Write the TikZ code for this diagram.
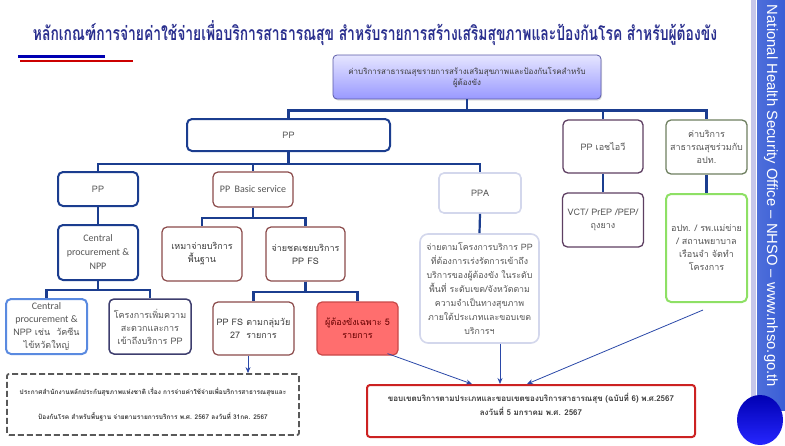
\documentclass[tikz,border=0pt]{standalone}
\usepackage{fontspec}
\setmainfont{Loma}[Script=Thai]
\newfontfamily\latfont{Carlito}
\newfontfamily\sidefont{Liberation Sans}
\usetikzlibrary{arrows.meta,shadows}
\definecolor{navy}{HTML}{1B3D8F}
\definecolor{titleblue}{HTML}{2A2F8E}
\definecolor{txtgray}{HTML}{555555}
\definecolor{txtdark}{HTML}{3A3A3A}
\definecolor{brownb}{HTML}{8B4A4A}
\definecolor{purpleb}{HTML}{5E3F62}
\definecolor{greenb}{HTML}{6E7F60}
\definecolor{limeb}{HTML}{8EE065}
\definecolor{lightb}{HTML}{D3D7EC}
\definecolor{medblue}{HTML}{5A8AE0}
\definecolor{navygray}{HTML}{3E3E6E}
\definecolor{salmon}{HTML}{FF6E6E}
\definecolor{salmonb}{HTML}{C84848}
\definecolor{redb}{HTML}{CC2222}
\definecolor{arrblue}{HTML}{2A48A8}
\definecolor{sideblue}{HTML}{3A5ED6}
\definecolor{lavline}{HTML}{C6C6EA}
\begin{document}
\begin{tikzpicture}[x=1pt,y=-1pt,
  box/.style={draw, rounded corners=5pt, fill=white, align=center, inner sep=1pt,
    font=\fontsize{9}{13}\selectfont, text=txtgray},
  bluebox/.style={box, draw=navy, line width=2pt},
  brownbox/.style={box, draw=brownb, line width=1.2pt},
  purplebox/.style={box, draw=purpleb, line width=1.3pt},
  olivebox/.style={box, draw=greenb, line width=1.3pt},
  limebox/.style={box, draw=limeb, line width=2pt},
  lightbox/.style={box, draw=lightb, line width=1.6pt},
  medbox/.style={box, draw=medblue, line width=2pt},
  navgbox/.style={box, draw=navygray, line width=1.5pt},
  tree/.style={draw=navy, line width=2.2pt},
  arr/.style={draw=arrblue, line width=0.8pt, -{Stealth[length=6pt,width=5pt]}}
]
\useasboundingbox (0,0) rectangle (785,445);

% sidebar
\fill[lavline] (751,0) rectangle (756,400);
\shade[left color=sideblue!90!white, right color=sideblue] (757,0) rectangle (785,410);
\node[text=white, rotate=-90, inner sep=0pt] (side) at (771,196)
  {\resizebox{382pt}{!}{\sidefont National Health Security Office – NHSO – www.nhso.go.th}};
\shade[top color=blue!70!black, bottom color=blue!85!white] (760,420) ellipse [x radius=23, y radius=25];

% title
\node[text=titleblue, inner sep=0pt] (title) at (375,33)
  {\scalebox{1}[1.4]{\resizebox{684pt}{!}{\bfseries หลักเกณฑ์การจ่ายค่าใช้จ่ายเพื่อบริการสาธารณสุข สำหรับรายการสร้างเสริมสุขภาพและป้องกันโรค สำหรับผู้ต้องขัง}}};
\draw[draw=blue!70!black, line width=3pt] (18,56) -- (105,56);
\draw[draw=red!80!black, line width=2pt] (20,61) -- (133,61);

% top box
\node[box, rounded corners=4pt, draw=blue!30!gray, line width=0.8pt, top color=blue!10!white, bottom color=blue!40!white,
  drop shadow={opacity=0.25, shadow xshift=1pt, shadow yshift=-1.5pt},
  minimum width=268pt, minimum height=44pt, font=\fontsize{8}{11}\selectfont, text=txtdark] (top) at (467,77)
  {ค่าบริการสาธารณสุขรายการสร้างเสริมสุขภาพและป้องกันโรคสำหรับ\\ผู้ต้องขัง};

% level 1
\node[bluebox, minimum width=203pt, minimum height=32pt] (pp) at (288.5,135) {PP};
\node[purplebox, minimum width=80pt, minimum height=53pt] (hiv) at (603,146.5) {PP เอชไอวี};
\node[olivebox, minimum width=81pt, minimum height=54pt] (loc) at (706.5,147) {ค่าบริการ\\สาธารณสุขร่วมกับ\\อปท.};

% level 2
\node[bluebox, minimum width=80pt, minimum height=34pt] (ppl) at (98,189) {PP};
\node[brownbox, minimum width=80pt, minimum height=35pt, font=\latfont\fontsize{10}{13}\selectfont] (ppb) at (253,189.5) {PP\ \ Basic service};
\node[lightbox, minimum width=82pt, minimum height=40pt] (ppa) at (480,193) {PPA};
\node[purplebox, minimum width=81pt, minimum height=54pt] (vct) at (603,220) {VCT/ PrEP /PEP/\\ถุงยาง};
\node[limebox, minimum width=81pt, minimum height=108pt] (grn) at (706.5,248) {อปท. / รพ.แม่ข่าย\\/ สถานพยาบาล\\เรือนจำ จัดทำ\\โครงการ};

% level 3
\node[bluebox, minimum width=80pt, minimum height=55pt, font=\latfont\fontsize{10}{14}\selectfont] (cen) at (98,252.5) {Central\\procurement \&\\NPP};
\node[brownbox, minimum width=80pt, minimum height=54pt, text=txtdark] (lump) at (202,254) {เหมาจ่ายบริการ\\พื้นฐาน};
\node[brownbox, minimum width=79pt, minimum height=54pt, text=txtdark] (fs) at (305.5,254) {จ่ายชดเชยบริการ\\PP FS};
\node[lightbox, rounded corners=8pt, minimum width=119pt, minimum height=109pt, font=\fontsize{8.8}{14}\selectfont] (ppad) at (479.5,288.5)
  {จ่ายตามโครงการบริการ PP\\ที่ต้องการเร่งรัดการเข้าถึง\\บริการของผู้ต้องขัง ในระดับ\\พื้นที่ ระดับเขต/จังหวัดตาม\\ความจำเป็นทางสุขภาพ\\ภายใต้ประเภทและขอบเขต\\บริการฯ};

% level 4
\node[medbox, minimum width=81pt, minimum height=55pt, font=\fontsize{9}{13}\selectfont] (cen2) at (46.5,326.5) {{\latfont\fontsize{10}{13}\selectfont Central}\\{\latfont\fontsize{10}{13}\selectfont procurement \&}\\NPP เช่น\ \ วัคซีน\\ไข้หวัดใหญ่};
\node[navgbox, minimum width=82pt, minimum height=55pt] (acc) at (150,326.5) {โครงการเพิ่มความ\\สะดวกและการ\\เข้าถึงบริการ PP};
\node[brownbox, minimum width=81pt, minimum height=53pt, text=txtdark] (fs27) at (253.5,328.5) {PP FS ตามกลุ่มวัย\\27\ \ รายการ};
\node[box, fill=salmon, draw=salmonb, line width=1.2pt, minimum width=81pt, minimum height=53pt, text=red!40!black] (pris) at (357.5,328.5) {ผู้ต้องขังเฉพาะ 5\\รายการ};

% bottom boxes
\node[draw=gray!70!black, dashed, dash pattern=on 6pt off 3pt, line width=1.8pt, rounded corners=2pt, align=center,
  minimum width=292pt, minimum height=61pt, font=\bfseries\fontsize{6.5}{25}\selectfont, text=txtdark] (dash) at (153,404.5)
  {ประกาศสำนักงานหลักประกันสุขภาพแห่งชาติ เรื่อง การจ่ายค่าใช้จ่ายเพื่อบริการสาธารณสุขและ\\ป้องกันโรค สำหรับพื้นฐาน จ่ายตามรายการบริการ พ.ศ. 2567 ลงวันที่ 31กค. 2567};
\node[draw=redb, line width=2pt, rounded corners=3pt, fill=white, align=center,
  minimum width=328pt, minimum height=52pt, font=\bfseries\fontsize{8}{14}\selectfont, text=txtdark] (red) at (531,411)
  {ขอบเขตบริการตามประเภทและขอบเขตของบริการสาธารณสุข (ฉบับที่ 6) พ.ศ.2567\\ลงวันที่ 5 มกราคม พ.ศ. 2567\\\mbox{}};

% tree connectors
\draw[tree] (top.south) -- ++(0,11) -| (pp.north);
\draw[tree] (top.south) -- ++(0,11) -| (hiv.north);
\draw[tree] (top.south) -- ++(0,11) -| (loc.north);
\draw[tree] (pp.south) -- ++(0,12) -| (ppl.north);
\draw[tree] (pp.south) -- ++(0,12) -| (ppb.north);
\draw[tree] (pp.south) -- ++(0,12) -| (ppa.north);
\draw[tree] (ppl.south) -- (cen.north);
\draw[tree] (cen.south) -- ++(0,9) -| (cen2.north);
\draw[tree] (cen.south) -- ++(0,9) -| (acc.north);
\draw[tree] (ppb.south) -- ++(0,10) -| (lump.north);
\draw[tree] (ppb.south) -- ++(0,10) -| (fs.north);
\draw[tree] (fs.south) -- ++(0,10) -| (fs27.north);
\draw[tree] (fs.south) -- ++(0,10) -| (pris.north);
\draw[tree] (ppa.south) -- (ppad.north);
\draw[tree] (hiv.south) -- (vct.north);
\draw[tree] (loc.south) -- (grn.north);

% arrows
\coordinate (a1) at ([xshift=-5.5pt]fs27.south);
\draw[arr] (a1) -- (a1 |- dash.north);
\draw[arr] ([xshift=-11pt,yshift=2pt]pris.south east) -- ([xshift=-59pt]red.north);
\coordinate (a2) at ([xshift=20.5pt]ppad.south);
\draw[arr] (a2) -- (a2 |- red.north);
\draw[arr] ([xshift=-3.5pt,yshift=-7pt]grn.south) -- ([xshift=-4pt]red.north);
\end{tikzpicture}
\end{document}
